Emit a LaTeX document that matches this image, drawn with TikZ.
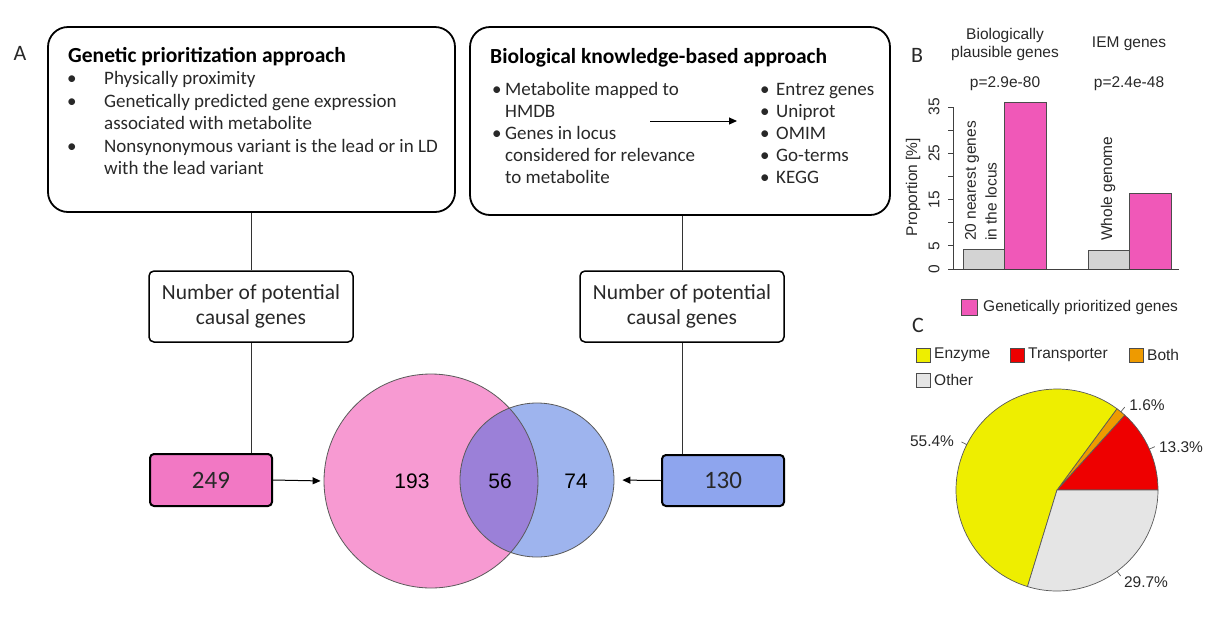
\documentclass[tikz,border=0pt]{standalone}
\usepackage{fontspec}
\setmainfont{Carlito}
\newfontfamily\arialf{Liberation Sans}
\usetikzlibrary{arrows.meta}
\definecolor{vpink}{RGB}{247,154,210}
\definecolor{vblue}{RGB}{158,180,238}
\definecolor{vpurple}{RGB}{155,128,216}
\definecolor{bpink}{RGB}{242,120,196}
\definecolor{bblue}{RGB}{142,165,238}
\definecolor{barpink}{RGB}{240,88,184}
\definecolor{bargray}{RGB}{211,211,211}
\definecolor{pyellow}{RGB}{238,238,0}
\definecolor{pred}{RGB}{238,0,0}
\definecolor{porange}{RGB}{238,154,0}
\definecolor{pgray}{RGB}{229,229,229}
\definecolor{edgegray}{RGB}{90,90,90}
\definecolor{txt}{RGB}{40,40,40}
\begin{document}
\begin{tikzpicture}[x=1pt,y=-1pt,
  bigbox/.style={draw=black, line width=1.8pt, rounded corners=20pt, inner sep=0pt},
  numbox/.style={draw=black, line width=1.5pt, rounded corners=5pt, inner sep=0pt, align=center, text=txt, font=\fontsize{21.5}{25}\selectfont},
  valbox/.style={draw=black, line width=2pt, rounded corners=4pt, inner sep=0pt, text=txt, font=\fontsize{25}{28}\selectfont},
  body/.style={anchor=base west, inner sep=0pt, text=txt, font=\fontsize{19}{22}\selectfont},
  ttl/.style={anchor=base west, inner sep=0pt, text=black, font=\bfseries\fontsize{21.5}{24}\selectfont},
  panel/.style={inner sep=0pt, text=txt, font=\fontsize{22}{26}\selectfont},
  ar/.style={inner sep=0pt, text=txt, font=\arialf\fontsize{15.5}{18}\selectfont},
  vnum/.style={inner sep=0pt, text=black, font=\arialf\fontsize{21}{24}\selectfont},
  conn/.style={draw=black!80, line width=0.9pt},
  arr/.style={draw=black, line width=1pt, -{Triangle[length=8pt,width=7pt]}},
  axis/.style={draw=black!75, line width=0.9pt},
  swatch/.style={draw=black!70, line width=0.8pt}
]
\useasboundingbox (0,0) rectangle (1211,633);

% ---------- Panel A ----------
\node[panel] (labA) at (20,53) {A};

\node[bigbox, minimum width=407pt, minimum height=185pt] (gbox) at (251.5,119.5) {};
\node[ttl] (gtitle) at (68,62) {Genetic prioritization approach};
\node[body] (gb1) at (67,84) {•};
\node[body] (gl1) at (104,84) {Physically proximity};
\node[body] (gb2) at (67,107) {•};
\node[body] (gl2) at (104,107) {Genetically predicted gene expression};
\node[body] (gl3) at (104,129) {associated with metabolite};
\node[body] (gb3) at (67,152) {•};
\node[body] (gl4) at (104,152) {Nonsynonymous variant is the lead or in LD};
\node[body] (gl5) at (104,174) {with the lead variant};

\node[bigbox, minimum width=420pt, minimum height=188pt] (bbox) at (680,121) {};
\node[ttl] (btitle) at (490,63) {Biological knowledge-based approach};
\node[body] (bb1) at (492,95) {•};
\node[body] (bl1) at (505,95) {Metabolite mapped to};
\node[body] (bl2) at (505,117) {HMDB};
\node[body] (bb2) at (492,139) {•};
\node[body] (bl3) at (505,139) {Genes in locus};
\node[body] (bl4) at (505,161) {considered for relevance};
\node[body] (bl5) at (505,183) {to metabolite};
\node[body] (rb1) at (760,95) {•};
\node[body] (rl1) at (776,95) {Entrez genes};
\node[body] (rb2) at (760,117) {•};
\node[body] (rl2) at (776,117) {Uniprot};
\node[body] (rb3) at (760,139) {•};
\node[body] (rl3) at (776,139) {OMIM};
\node[body] (rb4) at (760,161) {•};
\node[body] (rl4) at (776,161) {Go-terms};
\node[body] (rb5) at (760,183) {•};
\node[body] (rl5) at (776,183) {KEGG};
\coordinate (ia) at (650,121);
\coordinate (ib) at (737,121);
\draw[arr] (ia) -- (ib);

\node[numbox, minimum width=204pt, minimum height=71pt] (nleft) at (251,306.5) {Number of potential\\causal genes};
\node[numbox, minimum width=204pt, minimum height=71pt] (nright) at (682,306.5) {Number of potential\\causal genes};
\node[valbox, fill=bpink, minimum width=122pt, minimum height=52pt] (n249) at (211,480) {249};
\node[valbox, fill=bblue, minimum width=122pt, minimum height=51pt] (n130) at (723,480.5) {130};

\draw[conn] (nleft.north) -- (nleft.north |- gbox.south);
\draw[conn] (nleft.south) -- (nleft.south |- n249.north);
\draw[conn] (nright.north) -- (nright.north |- bbox.south);
\draw[conn] (nright.south) -- (nright.south |- n130.north);

% Venn
\fill[vpink] (431,481) circle (107);
\fill[vblue] (537,480) circle (77);
\begin{scope}
  \clip (431,481) circle (107);
  \fill[vpurple] (537,480) circle (77);
\end{scope}
\node[circle, draw=edgegray, line width=0.8pt, minimum size=214pt, inner sep=0pt] (pc) at (431,481) {};
\node[circle, draw=edgegray, line width=0.8pt, minimum size=154pt, inner sep=0pt] (bc) at (537,480) {};
\node[vnum] (v193) at (412,481) {193};
\node[vnum] (v56) at (500,481) {56};
\node[vnum] (v74) at (576,481) {74};

\draw[arr, shorten >=3pt] (n249.east) -- (pc.west);
\draw[arr, shorten >=8pt] (n130.west) -- (bc.east);

% ---------- Panel B ----------
\node[panel] (labB) at (917,55) {B};
\node[ar, align=center] (hb1) at (1005,44) {Biologically\\plausible genes};
\node[ar] (hb2) at (1129,44) {IEM genes};
\node[ar] (pv1) at (1005,84) {p=2.9e-80};
\node[ar] (pv2) at (1129,84) {p=2.4e-48};

\fill[bargray] (963,269) rectangle (1004,249);
\draw[draw=black!70, line width=0.8pt] (963,269) -- (963,249) -- (1004,249);
\fill[barpink] (1004,269) rectangle (1046,102);
\draw[draw=black!70, line width=0.8pt] (1004,269) -- (1004,102) -- (1046,102) -- (1046,269);
\fill[bargray] (1088,269) rectangle (1129,250);
\draw[draw=black!70, line width=0.8pt] (1088,269) -- (1088,250) -- (1129,250);
\fill[barpink] (1129,269) rectangle (1171,193);
\draw[draw=black!70, line width=0.8pt] (1129,269) -- (1129,193) -- (1171,193) -- (1171,269);

\draw[axis] (953,107) -- (953,269) -- (1179,269);
\foreach \v in {0,5,...,35} {
  \draw[axis] (948,{269-4.629*\v}) -- (953,{269-4.629*\v});
}
\foreach \v in {0,5,15,25,35} {
  \node[ar, rotate=90] at (934,{269-4.629*\v}) {\v};
}
\node[ar, rotate=90] (ylab) at (913,187) {Proportion [\%]};
\node[ar, rotate=90, anchor=west] (t20a) at (972,241) {20 nearest genes};
\node[ar, rotate=90, anchor=west] (t20b) at (991,241) {in the locus};
\node[ar, rotate=90, anchor=west] (twg) at (1108,241) {Whole genome};

\fill[barpink] (961,299) rectangle (977,315);
\draw[swatch] (961,299) rectangle (977,315);
\node[ar, anchor=west] (legB) at (983,307) {Genetically prioritized genes};

% ---------- Panel C ----------
\node[panel] (labC) at (918,325) {C};
\fill[pyellow] (916,348) rectangle (930,362); \draw[swatch] (916,348) rectangle (930,362);
\node[ar, anchor=west] (lgE) at (934,355) {Enzyme};
\fill[pred] (1010,348) rectangle (1024,362); \draw[swatch] (1010,348) rectangle (1024,362);
\node[ar, anchor=west] (lgT) at (1028,355) {Transporter};
\fill[porange] (1129,348) rectangle (1143,362); \draw[swatch] (1129,348) rectangle (1143,362);
\node[ar, anchor=west] (lgB) at (1147,355) {Both};
\fill[pgray] (916,373) rectangle (930,387); \draw[swatch] (916,373) rectangle (930,387);
\node[ar, anchor=west] (lgO) at (934,380) {Other};

\begin{scope}[shift={(1057,490)}]
  \filldraw[fill=pred, draw=black!65, line width=0.7pt] (0,0) -- (0:101) arc[start angle=0, end angle=-47.9, radius=101] -- cycle;
  \filldraw[fill=porange, draw=black!65, line width=0.7pt] (0,0) -- (-47.9:101) arc[start angle=-47.9, end angle=-53.6, radius=101] -- cycle;
  \filldraw[fill=pyellow, draw=black!65, line width=0.7pt] (0,0) -- (-53.6:101) arc[start angle=-53.6, end angle=-253.0, radius=101] -- cycle;
  \filldraw[fill=pgray, draw=black!65, line width=0.7pt] (0,0) -- (-253.0:101) arc[start angle=-253.0, end angle=-360, radius=101] -- cycle;
  \draw[black!65, line width=0.7pt] (-23.9:101) -- (-23.9:107);
  \draw[black!65, line width=0.7pt] (-50.75:101) -- (-50.75:107);
  \draw[black!65, line width=0.7pt] (-153.3:101) -- (-153.3:107);
  \draw[black!65, line width=0.7pt] (-306.5:101) -- (-306.5:107);
\end{scope}
\node[ar] (p16) at (1147,405) {1.6\%};
\node[ar] (p133) at (1181,447) {13.3\%};
\node[ar] (p554) at (932,441) {55.4\%};
\node[ar] (p297) at (1146,582) {29.7\%};
\end{tikzpicture}
\end{document}
